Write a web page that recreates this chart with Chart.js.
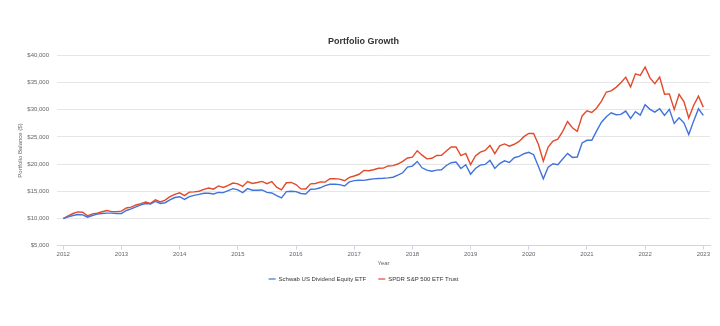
<!DOCTYPE html>
<html>
<head>
<meta charset="utf-8">
<title>Portfolio Growth</title>
<script src="https://cdn.jsdelivr.net/npm/chart.js@4.4.1/dist/chart.umd.min.js"></script>
<style>
    html, body { margin: 0; padding: 0; background: #ffffff; }
    #wrap { width: 720px; height: 326px; }
</style>
</head>
<body>
<div id="wrap"><canvas id="growthChart" width="720" height="326"></canvas></div>
<script>
// monthly balances, first point = start of Jan 2012, last = end of Dec 2022
const startYear = 2012;
const yearTicks = [2012, 2013, 2014, 2015, 2016, 2017, 2018, 2019, 2020, 2021, 2022, 2023];
const seriesNames = ['Schwab US Dividend Equity ETF', 'SPDR S&P 500 ETF Trust'];
const seriesColors = ['#4273db', '#e24a2b'];

const schwabValues = [10000,
    10300, 10550, 10740, 10670, 10250, 10550, 10800, 10920, 10980, 10980, 10920, 10920,
    11470, 11780, 12150, 12510, 12760, 12640, 13130, 12760, 12900, 13420, 13860, 14010,
    13520, 14010, 14260, 14440, 14630, 14630, 14500, 14810, 14750, 15120, 15490, 15250,
    14750, 15490, 15190, 15190, 15250, 14810, 14700, 14200, 13800, 14950, 15000, 14950,
    14600, 14500, 15370, 15400, 15650, 16050, 16300, 16300, 16230, 15990, 16730, 16970,
    17040, 17000, 17160, 17280, 17350, 17400, 17470, 17590, 17960, 18400, 19440, 19630,
    20490, 19320, 18890, 18700, 18890, 18950, 19750, 20250, 20370, 19200, 19880, 18150,
    19200, 19810, 19940, 20680, 19200, 20100, 20600, 20310, 21170, 21420, 21910, 22160,
    21730, 19570, 17290, 19440, 20060, 19880, 20930, 21970, 21230, 21300, 23890, 24380,
    24380, 26100, 27700, 28700, 29440, 29070, 29130, 29750, 28390, 29630, 29010, 30920,
    30060, 29560, 30180, 28950, 30060, 27470, 28510, 27590, 25430, 27900, 30180, 28950];

const spdrValues = [10000,
    10464, 10918, 11220, 11145, 10476, 10845, 10973, 11248, 11472, 11263, 11271, 11347,
    11928, 12081, 12484, 12724, 13024, 12782, 13443, 13040, 13387, 14007, 14422, 14716,
    14198, 14844, 14901, 15005, 15353, 15595, 15386, 15993, 15699, 16069, 16510, 16378,
    15892, 16786, 16449, 16610, 16824, 16402, 16773, 15751, 15269, 16568, 16629, 16245,
    15436, 15423, 16376, 16441, 16720, 16692, 17300, 17321, 17235, 16936, 17560, 17811,
    18130, 18842, 18784, 18971, 19238, 19267, 19663, 19720, 20018, 20490, 21116, 21264,
    22462, 21645, 20968, 21077, 21589, 21616, 22417, 23132, 23165, 21564, 21964, 19914,
    21508, 22206, 22508, 23428, 21934, 23347, 23700, 23303, 23647, 24170, 25045, 25646,
    25636, 23606, 20538, 23146, 24249, 24571, 26018, 27834, 26685, 26019, 28849, 29791,
    29488, 30308, 31580, 33251, 33469, 34108, 34941, 35981, 34194, 36594, 36300, 37845,
    35849, 34791, 35987, 32829, 32903, 30060, 32828, 31489, 28461, 30774, 32484, 30473];

const fontFamily = '"Liberation Sans", Arial, sans-serif';

function toPoints(values) {
    // month index -> fractional year
    return values.map((v, i) => ({ x: startYear + i / 12, y: v }));
}

const ctx = document.getElementById('growthChart').getContext('2d');

const growthChart = new Chart(ctx, {
    type: 'line',
    data: {
        datasets: [
            {
                label: seriesNames[0],
                data: toPoints(schwabValues),
                borderColor: seriesColors[0],
                backgroundColor: seriesColors[0],
                borderWidth: 1.4,
                pointRadius: 0,
                tension: 0
            },
            {
                label: seriesNames[1],
                data: toPoints(spdrValues),
                borderColor: seriesColors[1],
                backgroundColor: seriesColors[1],
                borderWidth: 1.4,
                pointRadius: 0,
                tension: 0
            }
        ]
    },
    options: {
        responsive: false,
        animation: false,
        layout: {
            padding: { left: 17, right: 10, top: 0, bottom: 34 }
        },
        plugins: {
            title: {
                display: true,
                text: 'Portfolio Growth',
                color: '#333333',
                font: { family: fontFamily, size: 9, weight: 'bold' },
                padding: { top: 36.3, bottom: 8.2 }
            },
            legend: {
                position: 'bottom',
                labels: {
                    color: '#333333',
                    font: { family: fontFamily, size: 6 },
                    boxWidth: 7,
                    boxHeight: 1.2,
                    padding: 12,
                    generateLabels: (chart) => {
                        const items = Chart.defaults.plugins.legend.labels.generateLabels(chart);
                        items.forEach(item => {
                            item.lineWidth = 0;
                            item.fillStyle = seriesColors[item.datasetIndex];
                        });
                        return items;
                    }
                }
            },
            tooltip: { enabled: false }
        },
        scales: {
            x: {
                type: 'linear',
                min: 2011.892,
                max: 2023.115,
                afterBuildTicks: (scale) => {
                    scale.ticks = yearTicks.map(v => ({ value: v }));
                },
                afterFit: (scale) => {
                    scale.height = 18.3;
                },
                ticks: {
                    color: '#666666',
                    font: { family: fontFamily, size: 6 },
                    padding: 1,
                    maxRotation: 0,
                    autoSkip: false,
                    callback: (value) => String(value)
                },
                grid: {
                    drawOnChartArea: false,
                    drawTicks: true,
                    tickLength: 4,
                    color: '#ccd6eb'
                },
                border: { display: true, color: '#ccd6eb', width: 1 },
                title: {
                    display: true,
                    text: 'Year',
                    color: '#666666',
                    font: { family: fontFamily, size: 6 },
                    padding: { top: 0, bottom: -2.6 }
                }
            },
            y: {
                min: 5000,
                max: 40000,
                afterFit: (scale) => {
                    scale.width = 40;
                },
                ticks: {
                    stepSize: 5000,
                    color: '#666666',
                    font: { family: fontFamily, size: 6 },
                    padding: 8,
                    callback: (value) => '$' + value.toLocaleString('en-US')
                },
                grid: {
                    color: '#e6e6e6',
                    drawTicks: false
                },
                border: { display: false },
                title: {
                    display: true,
                    text: 'Portfolio Balance ($)',
                    color: '#666666',
                    font: { family: fontFamily, size: 6 },
                    padding: { top: 0, bottom: 0 }
                }
            }
        }
    }
});
</script>
</body>
</html>
